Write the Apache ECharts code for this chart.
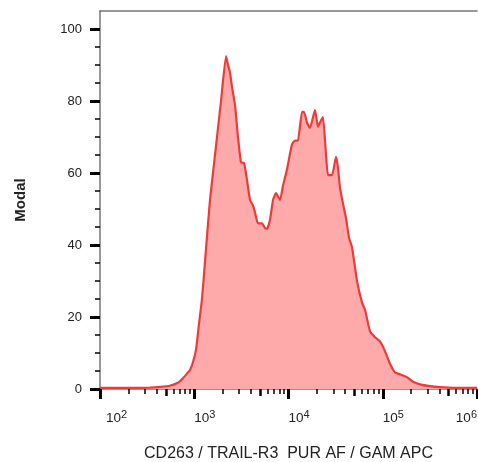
<!DOCTYPE html>
<html>
<head>
<meta charset="utf-8">
<script src="https://cdn.jsdelivr.net/npm/echarts@6/dist/echarts.min.js"></script>
<style>
html,body{margin:0;padding:0;background:#fff;}
#chart{width:478px;height:462px;}
</style>
</head>
<body>
<div id="chart"></div>
<script>
// Fluorescence intensity, expressed in decades (log10 of channel value)
const xDecade = [2.00, 2.32, 2.53, 2.64, 2.74, 2.83, 2.88, 2.92, 2.955, 2.987, 3.019, 3.05, 3.082, 3.125, 3.167, 3.22, 3.284, 3.337, 3.358, 3.379, 3.40, 3.432, 3.464, 3.496, 3.528, 3.56, 3.592, 3.623, 3.645, 3.676, 3.719, 3.75, 3.772, 3.804, 3.836, 3.867, 3.91, 3.942, 3.984, 4.037, 4.069, 4.10, 4.143, 4.164, 4.196, 4.228, 4.281, 4.313, 4.334, 4.366, 4.398, 4.419, 4.462, 4.504, 4.525, 4.546, 4.578, 4.61, 4.642, 4.674, 4.727, 4.78, 4.812, 4.865, 4.918, 4.971, 5.024, 5.077, 5.13, 5.183, 5.257, 5.321, 5.395, 5.50, 5.607, 5.767, 6.0];
// Modal (% of max) values
const modal = [0.3, 0.3, 0.4, 0.6, 0.9, 1.8, 3, 4.2, 5.3, 7.5, 11, 18, 25, 39, 52.5, 65, 80, 92.5, 90, 88, 84, 79, 70, 63, 62.8, 58, 52.5, 51, 49, 46, 46, 44.7, 44.5, 47, 52.5, 54.4, 52.5, 56.5, 61, 68, 69, 69, 77, 77, 74, 72.5, 77.5, 72.8, 74, 75.5, 65, 59.4, 59.4, 64.5, 61.5, 56, 51.5, 47.5, 42, 39.4, 30, 24, 22, 16, 14.4, 13.2, 10.5, 7, 4.6, 4.1, 3.3, 2, 1.3, 0.8, 0.5, 0.3, 0.3];

// Tick definitions
const majorDecades = [2, 3, 4, 5, 6];
const minorMultipliers = [2, 3, 4, 6, 7, 8, 9];
const midMultipliers = [5];
const yMajorTicks = [0, 20, 40, 60, 80, 100];
const yMinorTicks = [5, 10, 15, 25, 30, 35, 45, 50, 55, 65, 70, 75, 85, 90, 95];

const xTitle = 'CD263 / TRAIL-R3  PUR AF / GAM APC';
const yTitle = 'Modal';

function subTicks(mults) {
  const out = [];
  for (let k = 2; k < 6; k++) mults.forEach(m => out.push(k + Math.log10(m)));
  return out;
}

const FONT = "'Liberation Sans', Arial, sans-serif";
const X_MIN = 2, X_MAX = 6, Y_MIN = 0, Y_MAX = 105;

const chart = echarts.init(document.getElementById('chart'), null, {renderer: 'canvas'});
chart.setOption({
  animation: false,
  backgroundColor: '#fff',
  grid: {left: 100, right: 1, top: 11, bottom: 73, containLabel: false, outerBoundsMode: 'none'},
  xAxis: [
    {
      type: 'value', min: X_MIN, max: X_MAX, position: 'bottom',
      axisLine: {show: true, lineStyle: {color: '#777', width: 1.5}},
      axisTick: {show: true, customValues: majorDecades, length: 10, lineStyle: {color: '#000', width: 3}},
      axisLabel: {
        show: true, customValues: majorDecades, margin: 20, align: 'left', alignMaxLabel: 'right',
        formatter: v => (Math.round(v) === X_MIN ? '{p|}' : '') + '{b|10}{s|' + Math.round(v) + '}',
        rich: {
          p: {width: 6},
          b: {fontFamily: FONT, fontSize: 13.5, color: '#222'},
          s: {fontFamily: FONT, fontSize: 11, color: '#222', padding: [0, 0, 7, 0]}
        }
      },
      splitLine: {show: false},
      name: xTitle, nameLocation: 'middle', nameGap: 57,
      nameTextStyle: {fontFamily: FONT, fontSize: 16, color: '#222'}
    },
    {
      type: 'value', min: X_MIN, max: X_MAX, position: 'bottom',
      axisLine: {show: false},
      axisTick: {show: true, customValues: subTicks(minorMultipliers), length: 5, lineStyle: {color: '#000', width: 1.5}},
      axisLabel: {show: false}, splitLine: {show: false}
    },
    {
      type: 'value', min: X_MIN, max: X_MAX, position: 'bottom',
      axisLine: {show: false},
      axisTick: {show: true, customValues: subTicks(midMultipliers), length: 7, lineStyle: {color: '#000', width: 2.5}},
      axisLabel: {show: false}, splitLine: {show: false}
    },
    {
      type: 'value', min: X_MIN, max: X_MAX, position: 'top',
      axisLine: {show: true, lineStyle: {color: '#777', width: 1.5}},
      axisTick: {show: false}, axisLabel: {show: false}, splitLine: {show: false}
    }
  ],
  yAxis: [
    {
      type: 'value', min: Y_MIN, max: Y_MAX, position: 'left',
      axisLine: {show: true, lineStyle: {color: '#777', width: 1.5}},
      axisTick: {show: true, customValues: yMajorTicks, length: 10, lineStyle: {color: '#000', width: 3}},
      axisLabel: {show: true, customValues: yMajorTicks, margin: 18, fontFamily: FONT, fontSize: 13, color: '#222'},
      splitLine: {show: false},
      name: yTitle, nameLocation: 'middle', nameGap: 72, nameRotate: 90,
      nameTextStyle: {fontFamily: FONT, fontSize: 15, fontWeight: 'bold', color: '#222'}
    },
    {
      type: 'value', min: Y_MIN, max: Y_MAX, position: 'left',
      axisLine: {show: false},
      axisTick: {show: true, customValues: yMinorTicks, length: 5, lineStyle: {color: '#000', width: 1.5}},
      axisLabel: {show: false}, splitLine: {show: false}
    }
  ],
  series: [{
    type: 'line',
    xAxisIndex: 0, yAxisIndex: 0,
    data: xDecade.map((x, i) => [x, modal[i]]),
    showSymbol: false,
    smooth: 0.15,
    lineStyle: {color: '#ef3a3a', width: 2.2},
    areaStyle: {color: '#ffaaaa', opacity: 1},
    z: 3
  }]
});
</script>
</body>
</html>
